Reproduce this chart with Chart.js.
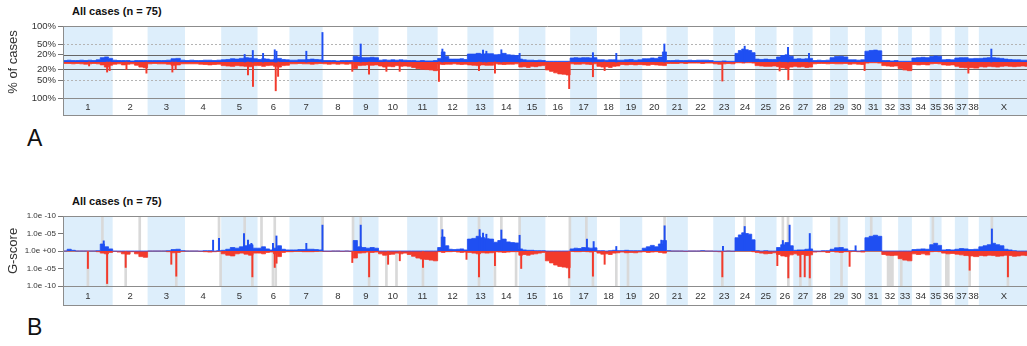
<!DOCTYPE html>
<html>
<head>
<meta charset="utf-8">
<script src="https://cdn.jsdelivr.net/npm/chart.js@4/dist/chart.umd.min.js"></script>
<style>
  html, body { margin: 0; padding: 0; background: #fff; }
  body { width: 1027px; height: 346px; overflow: hidden; position: relative; font-family: "Liberation Sans", Arial, sans-serif; }
  canvas { position: absolute; left: 0; }
  #chartA { top: 0; }
  #chartB { top: 190px; }
  .title { position: absolute; left: 72px; font-weight: bold; font-size: 11px; color: #111; line-height: 13px; }
  .panel { position: absolute; left: 27px; font-size: 23px; color: #111; line-height: 23px; }
</style>
</head>
<body>
<div class="title" style="top:5px">All cases (n = 75)</div>
<div class="title" style="top:195px">All cases (n = 75)</div>
<div class="panel" style="top:127px">A</div>
<div class="panel" style="top:316px">B</div>
<canvas id="chartA" width="1032" height="120"></canvas>
<canvas id="chartB" width="1032" height="120"></canvas>
<script>
// chromosomes (dog genome), lengths in Mb
const chromNames = ["1","2","3","4","5","6","7","8","9","10","11","12","13","14","15","16","17","18","19","20",
  "21","22","23","24","25","26","27","28","29","30","31","32","33","34","35","36","37","38","X"];
const chromLengths = [125.6, 88.4, 94.7, 91.5, 92.0, 80.7, 84.0, 77.3, 64.0, 72.5, 77.1, 75.3, 66.2, 63.9, 67.2,
  62.6, 67.8, 58.1, 56.5, 61.3, 54.0, 64.4, 55.0, 50.8, 54.3, 42.3, 48.9, 44.2, 44.9, 43.3, 42.6, 41.4, 34.8,
  45.1, 30.0, 33.6, 33.9, 26.8, 126.9];

// A: % of cases with gain / loss, evenly spaced bins per chromosome
const pctGain = [
  [4,5,4,4,5,4,5,4,6,12,14,10], [5,4,4,4,3,4,4,4], [4,4,4,4,5,9,10,5], [4,5,4,4,5,5,4,5],
  [6,7,9,8,10,12,11,9], [7,9,8,6,8,10,7,6], [5,5,6,6,7,8,7,6], [4,4,4,3,4,4,4],
  [16,14,12,12,13,12], [5,6,5,6,5,6,5], [4,4,3,4,3,3,4], [10,28,15,8,8,8,9,7],
  [22,22,24,22,23,23], [20,21,24,20,19,18], [8,6,5,5,4,5,4], [2,2,2,2,2,2],
  [11,12,11,12,12,11,12], [6,6,5,6,6,5], [5,6,7,5,6], [9,9,11,10,14,28],
  [4,4,5,4,4], [5,4,5,5,5,4], [2,2,3,2,2], [24,32,36,34,32,26],
  [8,7,8,7,7], [14,18,20,16], [8,9,8,9,10], [4,5,4,5],
  [12,15,16,14], [6,6,5,6], [30,32,33,31], [4,4,3,4],
  [2,2,2], [11,12,13,12], [15,17,16], [6,7,6],
  [11,12,12], [9,10], [10,11,12,12,11,10,8,7,6,6,5,5]
];
const pctLoss = [
  [4,4,5,4,5,6,5,4,5,8,14,9], [6,5,8,6,5,9,14,16], [5,4,5,5,6,9,8,5], [5,5,5,6,7,8,7,6],
  [10,11,12,10,11,12,13,10], [10,12,10,9,12,14,10,9], [5,5,4,5,5,6,5,4], [5,6,5,6,5,6,5],
  [18,10,9,8,9,8], [11,14,12,13,10,12,11], [12,15,18,20,21,22,24], [6,7,6,6,5,6,7,6],
  [8,9,10,8,9,9], [5,6,7,6,6,5], [14,13,15,12,13,11,10], [22,26,30,33,34,36],
  [5,6,6,5,6,7,5], [12,14,13,15,12,11], [7,8,7,8,7], [8,9,7,8,9,10],
  [4,4,4,3,4], [3,3,3,4,3,3], [5,6,5,4,5], [2,2,3,2,2,3],
  [10,11,12,12,11], [13,16,18,14], [12,14,13,15,14], [5,4,4,5],
  [4,5,5,4], [6,5,6,7], [3,2,2,3], [10,11,12,11],
  [18,22,24], [7,8,7,8], [5,4,5], [8,9,8],
  [12,15,16], [16,17], [13,14,12,13,14,12,11,12,13,12,11,12]
];
// narrow peaks: [chromosome, Mb, value]
const pctGainPeaks = [["5",59.4,21],["5",80,32],["6",14,24],["6",43.5,34],["6",47.8,30],["7",42.7,30],["7",83.5,82],
  ["9",19,50],["12",12,36],["13",39.5,33],["13",48,30],["14",19.7,34],["15",2,24],["17",57.7,26],["18",49,24],
  ["20",56,50],["24",24.5,44],["26",29,41],["27",39.8,24],["X",31.6,36]];
const pctLossPeaks = [["1",66,11],["1",111.6,28],["1",118,24],["2",35,21],["2",85.5,31],["3",62.7,28],["3",71,21],
  ["5",67.8,36],["5",80.4,68],["6",46,80],["6",52,40],["8",75,26],["9",40,34],["10",20,26],["10",53.6,26],
  ["12",3.3,54],["13",29.3,24],["14",3.5,31],["16",60.2,74],["17",57.7,41],["18",19.5,24],["23",23,53],
  ["26",7.8,25],["26",29.8,49],["30",42.5,24],["38",0.3,31]];

// B: G-score (exponent), evenly spaced bins per chromosome
const gGain = [
  [0,0.5,0.2,0,0,0,0,0,0.1,2,1.2,0.6], [0,0,0,0,0,0,0,0], [0,0,0,0,0.1,0.4,0.5,0.1], [0,0,0,0,0.1,0.1,0,0.1],
  [0.2,0.5,1,0.8,1.2,1.5,1.8,0.8], [0.8,1.2,0.6,0.3,0.8,1.5,0.5,0.3], [0.3,0.3,0.4,0.4,0.5,0.5,0.4,0.3], [0,0,0,0,0,0,0],
  [3,1.2,1,0.8,1,0.8], [0,0,0,0,0,0,0], [0,0,0,0,0,0,0], [1,4,1.5,0.5,0.4,0.5,0.6,0.3],
  [3.4,3.6,4.2,3.8,3.5,3.4], [2.5,3,3.4,2.6,2.4,2.3], [0.6,0.3,0.2,0.2,0.1,0.1,0.1], [0,0,0,0,0,0],
  [0.6,0.8,0.7,1,0.9,0.8,0.9], [0.1,0.1,0,0.1,0.2,0.1], [0.1,0.2,0.1,0.1,0.1], [0.8,1.2,1.6,1.2,2,3],
  [0.1,0,0,0,0], [0,0,0,0.1,0,0], [0,0,0,0,0], [3.8,4.6,5.2,5,4.8,3.2],
  [0.1,0,0.1,0,0], [1,1.8,2.4,1.5], [0.2,0.3,0.3,0.5,0.6], [0,0,0.1,0.1],
  [0.5,0.9,1,0.6], [0.1,0.1,0,0.1], [3.8,4.2,4.5,4.2], [0,0,0,0],
  [0,0,0], [0.4,0.5,0.6,0.5], [1.8,2.2,1.6], [0.3,0.4,0.3],
  [0.5,0.7,0.6], [0.4,0.5], [1.2,1.5,1.8,2.2,1.8,1.5,0.5,0.3,0.1,0,0,0]
];
const gLoss = [
  [0,0,0,0,0,0,0,0,0.2,0.6,0.8,0.4], [0.1,0.3,0.8,0.9,0.2,0.8,1.6,1.8], [0,0,0,0,0.2,0.5,0.4,0.1], [0,0,0,0.1,0.2,0.3,0.2,0.1],
  [0.8,1.2,1.4,0.8,0.6,0.9,1.2,0.6], [0.6,0.8,0.4,0.3,0.8,1.6,0.4,0.2], [0.2,0.1,0.1,0.2,0.2,0.2,0.1,0], [0.1,0.1,0,0,0.1,0,0.1],
  [2,0.6,0.5,0.3,0.4,0.3], [0.8,1.2,1,0.9,0.6,0.8,0.6], [1,1.5,2,2.3,2.4,2.6,2.8], [0.2,0.4,0.2,0.2,0.1,0.3,0.4,0.3],
  [0.4,0.6,0.8,0.5,0.6,0.5], [0.2,0.3,0.4,0.3,0.2,0.2], [1.2,1,1.2,0.9,0.8,0.6,0.4], [2.8,3.4,4,4.4,4.6,4.8],
  [0.1,0.2,0.2,0.1,0.2,0.3,0.1], [0.6,0.9,0.8,1,0.6,0.5], [0.3,0.5,0.4,0.5,0.3], [0.2,0.4,0.3,0.2,0.4,0.6],
  [0,0,0,0,0.1], [0,0,0,0,0,0], [0.1,0.2,0.1,0,0.1], [0,0,0,0,0,0.2],
  [0.4,0.6,0.8,0.7,0.5], [1,1.4,1.6,1.1], [0.8,1.2,1,1.3,1.1], [0.3,0.2,0.2,0.4],
  [0.1,0.3,0.4,0.2], [0.2,0.1,0.2,0.3], [0,0,0,0], [1,1.2,1.3,1.2],
  [2.2,2.6,2.8], [0.8,1,0.8,1.1], [0.2,0.1,0.2], [0.6,0.8,0.7],
  [0.9,1.1,1.3], [1.4,1.6], [1.3,1.4,1.2,1.3,1.5,1.4,1.2,1.3,1.5,1.4,1.2,1.3]
];
const gGainPeaks = [["1",103,2.9],["4",71,3.1],["4",86,3.6],["5",57.7,5],["5",67.8,3.1],["5",76.4,2.2],["6",39,2.2],
  ["6",47.8,4.3],["7",42.7,2.2],["7",83.5,7.4],["9",19,7.4],["12",12,6.1],["13",31,6.1],["13",39.5,5.1],["13",48,4.8],
  ["14",19.7,6],["15",2,4.5],["17",42.5,3.4],["17",59.5,2.7],["18",49,1.3],["20",48.3,3.1],["20",56.6,7.2],
  ["23",24.6,1.3],["24",24.5,7],["26",16,3],["26",33,7.4],["27",41.8,5],["30",19.7,1.5],["X",33,6.3]];
const gLossPeaks = [["1",63,5],["1",111.6,9.3],["2",33,4.7],["3",60,3.8],["3",72.6,7.2],["5",78.9,7.4],["6",43.5,4.7],
  ["6",48,3.5],["8",75,3.3],["9",40.2,7.4],["10",24.3,3.8],["10",53.8,2.8],["11",40,4.7],["12",73,2.4],["13",29.3,7.4],
  ["14",3.5,4.2],["15",6,5],["16",60.2,7.7],["17",57.7,7.2],["18",19.5,3.8],["23",23,7.4],["26",2,4.2],["26",29.8,7.7],
  ["27",18,7.4],["27",29,7.4],["27",41.8,7.7],["30",4.5,4.4],["38",3.5,5.5],["X",73.6,7.4]];
// significant regions (grey): [chromosome, Mb]
const sigGain = [["1",99.7],["2",68.5],["4",86],["5",59.4],["6",10],["6",43.5],["7",83.9],["8",76.8],["9",19],
  ["12",9.5],["13",29.3],["14",19.7],["15",2],["16",62],["17",41],["20",56.6],["24",24.5],["26",16],["26",29],
  ["29",22.5],["31",16],["35",8],["X",33]];
const sigLoss = [["1",63],["1",111.6],["2",33],["3",72.6],["4",90],["5",78.9],["6",39],["6",46],["9",40.2],["10",20],
  ["10",45.5],["11",40],["13",29.3],["14",3.5],["14",57],["16",60.2],["17",57.7],["18",49],["19",20.5],["23",23],
  ["26",29.8],["27",18],["27",41.8],["29",29],["32",16],["32",19],["32",22],["32",25],["32",27],["33",8],
  ["36",12],["36",14.5],["36",17],["38",3.5],["X",73.6]];

const pctTicks = [-100, -50, -20, 20, 50, 100];
const gTicks = [-10, -5, 0, 5, 10];
const gTickLabels = ["1.0e -10", "1.0e -05", "1.0e +00", "1.0e -05", "1.0e -10"];

const BLUE = "#1f4ff2", RED = "#f23a2c", SHADE = "#ddeefb", GREY = "#d9d9d9";

const offsets = [];
let total = 0;
chromLengths.forEach(l => { offsets.push(total); total += l; });
const genomeEnd = total;

function pos(name, mb) { return offsets[chromNames.indexOf(name)] + mb; }

function steps(profile, sign) {
  const pts = [];
  profile.forEach((vals, c) => {
    const w = chromLengths[c] / vals.length;
    vals.forEach((v, i) => pts.push({ x: offsets[c] + i * w, y: sign * v }));
  });
  const last = profile[profile.length - 1];
  pts.push({ x: genomeEnd, y: sign * last[last.length - 1] });
  return pts;
}
function peaks(list, sign) { return list.map(p => ({ x: pos(p[0], p[1]), y: sign * p[2] })); }
function sig(list, lo, hi) { return list.map(p => ({ x: pos(p[0], p[1]), y: [lo, hi] })); }

Chart.defaults.font.family = '"Liberation Sans", Arial, sans-serif';
Chart.defaults.color = "#333";

const chromPlugin = {
  id: "chrom",
  beforeDatasetsDraw(chart, args, opts) {
    const { ctx, chartArea: a, scales: { x, y } } = chart;
    ctx.save();
    ctx.fillStyle = SHADE;
    chromNames.forEach((n, c) => {
      if (c % 2 !== 0) return;
      const x0 = x.getPixelForValue(offsets[c]);
      const x1 = x.getPixelForValue(offsets[c] + chromLengths[c]);
      ctx.fillRect(x0, a.top, x1 - x0, a.bottom + opts.band - a.top);
    });
    (opts.lines || []).forEach(l => {
      const py = Math.round(y.getPixelForValue(l.v)) + 0.5;
      ctx.strokeStyle = l.color;
      ctx.lineWidth = 1;
      ctx.setLineDash(l.dash || []);
      ctx.beginPath();
      ctx.moveTo(a.left, py);
      ctx.lineTo(a.right, py);
      ctx.stroke();
    });
    ctx.restore();
  },
  afterDatasetsDraw(chart, args, opts) {
    const { ctx, chartArea: a, scales: { x } } = chart;
    const bandBottom = a.bottom + opts.band;
    ctx.save();
    ctx.strokeStyle = "#8c8c8c";
    ctx.lineWidth = 1;
    ctx.beginPath();
    [a.top, a.bottom, bandBottom].forEach(yy => {
      const py = Math.round(yy) + 0.5;
      ctx.moveTo(a.left, py);
      ctx.lineTo(chart.width, py);
    });
    ctx.moveTo(Math.round(a.left) + 0.5, a.top);
    ctx.lineTo(Math.round(a.left) + 0.5, bandBottom);
    ctx.stroke();
    ctx.fillStyle = "#333";
    ctx.font = '9.5px "Liberation Sans", Arial, sans-serif';
    ctx.textAlign = "center";
    ctx.textBaseline = "middle";
    chromNames.forEach((n, c) => {
      const xm = x.getPixelForValue(offsets[c] + chromLengths[c] / 2);
      ctx.fillText(n, xm, a.bottom + opts.band / 2 + 1);
    });
    ctx.restore();
  }
};

function makeChart(id, cfg) {
  return new Chart(document.getElementById(id), {
    type: "line",
    data: {
      datasets: [
        { data: steps(cfg.gain, 1), stepped: true, fill: "origin", backgroundColor: BLUE, borderColor: BLUE, borderWidth: 0.8, pointRadius: 0, order: 2 },
        { data: steps(cfg.loss, -1), stepped: true, fill: "origin", backgroundColor: RED, borderColor: RED, borderWidth: 0.8, pointRadius: 0, order: 2 },
        { type: "bar", data: peaks(cfg.gainPeaks, 1), backgroundColor: BLUE, barThickness: 1.3, grouped: false, order: 1 },
        { type: "bar", data: peaks(cfg.lossPeaks, -1), backgroundColor: RED, barThickness: 1.3, grouped: false, order: 1 },
        { type: "bar", data: cfg.sigUp || [], backgroundColor: GREY, barThickness: 2, grouped: false, order: 3 },
        { type: "bar", data: cfg.sigDown || [], backgroundColor: GREY, barThickness: 2, grouped: false, order: 3 }
      ]
    },
    options: {
      responsive: false,
      animation: false,
      layout: { padding: { top: 26, bottom: cfg.padBottom, left: 0, right: 3 } },
      plugins: {
        legend: { display: false },
        tooltip: { enabled: false },
        chrom: { band: cfg.band, lines: cfg.lines }
      },
      scales: {
        x: { type: "linear", min: 0, max: genomeEnd, offset: false, display: false, grid: { offset: false } },
        y: {
          min: cfg.min, max: cfg.max,
          afterBuildTicks: s => { s.ticks = cfg.ticks.map(v => ({ value: v })); },
          afterFit: s => { s.width = 63; },
          ticks: { callback: cfg.label, font: { size: cfg.tickSize }, color: "#333", padding: 2, autoSkip: false },
          grid: { drawOnChartArea: false, drawTicks: true, tickLength: 5, color: "#777" },
          border: { display: false },
          title: { display: true, text: cfg.title, font: { size: 13 }, color: "#333", padding: { top: 6, bottom: 0 } }
        }
      }
    },
    plugins: [chromPlugin]
  });
}

makeChart("chartA", {
  gain: pctGain, loss: pctLoss, gainPeaks: pctGainPeaks, lossPeaks: pctLossPeaks,
  min: -100, max: 100, ticks: pctTicks, tickSize: 9.5,
  label: v => Math.abs(v) + "%",
  title: "% of cases", padBottom: 22, band: 17,
  lines: [
    { v: 50, color: "#b4b4b4", dash: [2, 2] }, { v: -50, color: "#b4b4b4", dash: [2, 2] },
    { v: 20, color: "#666" }, { v: -20, color: "#666" }
  ]
});

makeChart("chartB", {
  gain: gGain, loss: gLoss, gainPeaks: gGainPeaks, lossPeaks: gLossPeaks,
  sigUp: sig(sigGain, 0, 10), sigDown: sig(sigLoss, -10, 0),
  min: -10, max: 10, ticks: gTicks, tickSize: 8,
  label: (v, i) => gTickLabels[i],
  title: "G-score", padBottom: 24, band: 19,
  lines: [{ v: 0, color: "#999" }]
});
</script>
</body>
</html>
